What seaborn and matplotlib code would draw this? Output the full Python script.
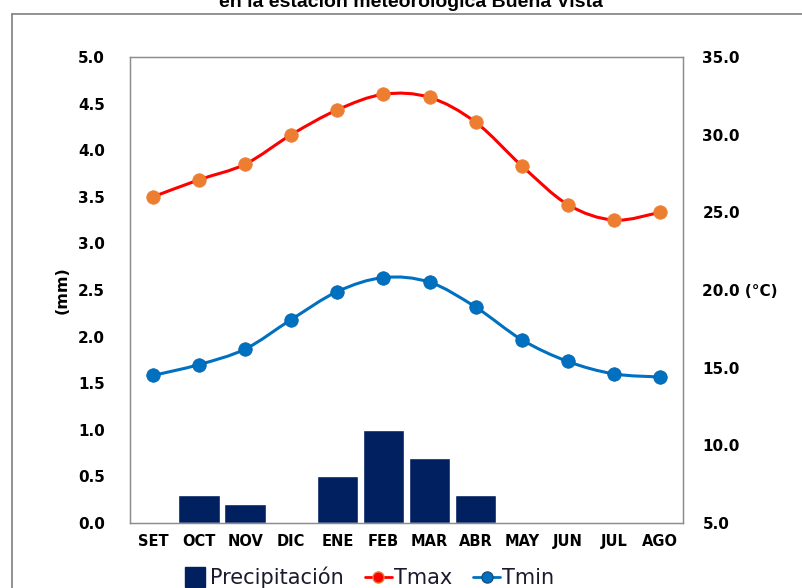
import numpy as np
import seaborn as sns
import matplotlib.pyplot as plt
from matplotlib.path import Path
from matplotlib.patches import PathPatch
from matplotlib.lines import Line2D

# dati
meses = ['SET', 'OCT', 'NOV', 'DIC', 'ENE', 'FEB', 'MAR', 'ABR', 'MAY', 'JUN', 'JUL', 'AGO']
precipitacion = [0.0, 0.3, 0.2, 0.0, 0.5, 1.0, 0.7, 0.3, 0.0, 0.0, 0.0, 0.0]
tmax = [26.0, 27.1, 28.1, 30.0, 31.6, 32.6, 32.4, 30.8, 28.0, 25.5, 24.5, 25.0]
tmin = [14.5, 15.2, 16.2, 18.1, 19.9, 20.8, 20.5, 18.9, 16.8, 15.4, 14.6, 14.4]
yticks_mm = [0.0, 0.5, 1.0, 1.5, 2.0, 2.5, 3.0, 3.5, 4.0, 4.5, 5.0]
yticks_c = [5.0, 10.0, 15.0, 20.0, 25.0, 30.0, 35.0]

NAVY = '#002060'
RED = '#FF0000'
ORANGE = '#ED7D31'
BLUE = '#0070C0'

sns.set_theme(style="white")
plt.rcParams['font.family'] = ['DejaVu Sans']
plt.rcParams['text.color'] = 'black'
plt.rcParams['xtick.color'] = 'black'
plt.rcParams['ytick.color'] = 'black'
plt.rcParams['axes.labelcolor'] = 'black'


def curva_suave(ax, x, y, color, lw):
    # linea "smooth" stile Excel (Catmull-Rom -> Bezier)
    x = np.asarray(x, float)
    y = np.asarray(y, float)
    p = np.column_stack([x, y])
    pe = np.vstack([p[0], p, p[-1]])
    verts = [p[0]]
    codes = [Path.MOVETO]
    for i in range(len(p) - 1):
        p0, p1, p2, p3 = pe[i], pe[i + 1], pe[i + 2], pe[i + 3]
        verts += [p1 + (p2 - p0) / 6, p2 - (p3 - p1) / 6, p2]
        codes += [Path.CURVE4] * 3
    ax.add_patch(PathPatch(Path(verts, codes), fill=False, edgecolor=color,
                           lw=lw, capstyle='round', zorder=3))


fig = plt.figure(figsize=(8.03, 5.88), dpi=100)
ax = fig.add_axes([130 / 803, 1 - 523 / 588, 553 / 803, 466 / 588])

sns.barplot(x=meses, y=precipitacion, order=meses, color=NAVY,
            saturation=1, width=0.9, ax=ax)
ax.set_xlim(-0.5, 11.5)
ax.set_ylim(0, 5)
ax.set_yticks(yticks_mm)
ax.set_yticklabels([f'{v:.1f}' for v in yticks_mm], fontsize=11, fontweight='bold')
ax.set_xticks(range(len(meses)))
ax.set_xticklabels(meses, fontsize=10.5, fontweight='bold')
ax.set_xlabel('')
ax.set_ylabel('(mm)', fontsize=11.5, fontweight='bold')
ax.yaxis.set_label_coords(-0.11, 0.5)
ax.tick_params(axis='x', length=0, pad=8)
ax.tick_params(axis='y', length=0, pad=18)

ax2 = ax.twinx()
xs = np.arange(len(meses))
curva_suave(ax2, xs, tmax, RED, 2.2)
curva_suave(ax2, xs, tmin, BLUE, 2.2)
sns.scatterplot(x=xs, y=tmax, color=ORANGE, s=95, edgecolor=ORANGE,
                linewidth=0.5, zorder=4, ax=ax2)
sns.scatterplot(x=xs, y=tmin, color=BLUE, s=95, edgecolor='#0060A8',
                linewidth=0.5, zorder=4, ax=ax2)
ax2.set_xlim(-0.5, 11.5)
ax2.set_ylim(5, 35)
ax2.set_yticks(yticks_c)
ax2.set_yticklabels([f'{v:.1f}' + (' (°C)' if v == 20 else '') for v in yticks_c],
                    fontsize=11, fontweight='bold')
ax2.tick_params(axis='y', length=0, pad=14)
ax2.grid(False)
ax.grid(False)

for a in (ax, ax2):
    for s in a.spines.values():
        s.set_color('#8c8c8c')
        s.set_linewidth(0.9)

# cornice esterna e titolo tagliato
fig.add_artist(Line2D([12 / 803, 12 / 803], [0, 1 - 14 / 588], color='#7f7f7f', lw=1.2))
fig.add_artist(Line2D([12 / 803, 1], [1 - 14 / 588, 1 - 14 / 588], color='#7f7f7f', lw=1.2))
fig.text(0.512, 1 - 7 / 588, 'en la estación meteorológica Buena Vista',
         ha='center', va='baseline', fontsize=14, fontweight='bold',
         family='Liberation Sans', color='black')

handles = [
    Line2D([], [], marker='s', linestyle='none', markersize=14, color=NAVY),
    Line2D([], [], color=RED, lw=2, marker='o', markersize=8,
           markerfacecolor=RED, markeredgecolor=ORANGE),
    Line2D([], [], color=BLUE, lw=2, marker='o', markersize=8,
           markerfacecolor=BLUE, markeredgecolor='#1f4e79'),
]
fig.legend(handles, ['Precipitación', 'Tmax', 'Tmin'], loc='center',
           bbox_to_anchor=(0.458, 0.018), ncol=3, frameon=False, fontsize=15,
           handlelength=1.3, handletextpad=0.1, columnspacing=1.0,
           labelcolor='#1a1a2e')

plt.savefig('out.png', dpi=100)
